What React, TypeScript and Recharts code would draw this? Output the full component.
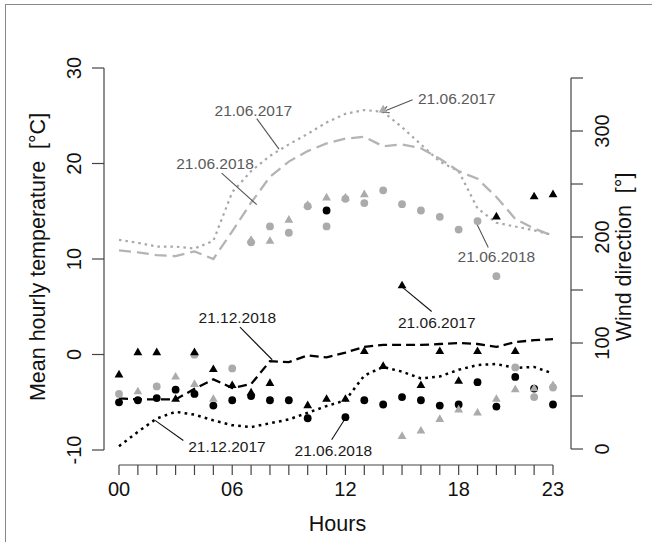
import React from "react";
import {
  ComposedChart,
  Line,
  Scatter,
  XAxis,
  YAxis,
  ReferenceLine,
  ReferenceDot,
} from "recharts";

const FONT = '"Liberation Sans", Arial, Helvetica, sans-serif';

const hours = [0, 1, 2, 3, 4, 5, 6, 7, 8, 9, 10, 11, 12, 13, 14, 15, 16, 17, 18, 19, 20, 21, 22, 23];
const hourTicks = [0, 6, 12, 18, 23];
const tempTicks = [-10, 0, 10, 20, 30];
const windTicks = [0, 50, 100, 150, 200, 250, 300, 350];
const windLabels = [0, 100, 200, 300];

// mean hourly temperature, °C
const tempJun2017 = [12.0, 11.7, 11.3, 11.3, 11.1, 11.9, 17.0, 19.2, 20.8, 22.0, 23.1, 24.3, 25.2, 25.6, 25.4, 23.8, 22.0, 20.2, 19.2, 15.3, 13.8, 13.4, 13.0, 12.5];
const tempJun2018 = [10.9, 10.7, 10.4, 10.3, 10.8, 10.0, 12.9, 15.9, 18.6, 20.2, 21.3, 22.1, 22.6, 22.8, 21.8, 22.0, 21.6, 20.5, 19.2, 18.4, 16.5, 14.2, 13.2, 12.4];
const tempDec2018 = [-4.6, -4.7, -4.7, -4.7, -3.6, -2.6, -3.5, -3.1, -0.7, -0.8, -0.1, -0.3, 0.2, 0.8, 1.0, 1.0, 1.0, 1.1, 1.2, 1.1, 0.8, 1.3, 1.5, 1.6];
const tempDec2017 = [-9.6, -8.1, -6.7, -6.0, -6.3, -6.9, -7.4, -7.6, -7.2, -6.8, -6.1, -5.4, -4.8, -2.2, -1.3, -1.8, -2.5, -2.3, -1.6, -1.1, -1.0, -1.4, -1.3, -2.0];

// wind direction, degrees (null = no point)
const windGrayTri = [null, 54, null, 68, 61, 47, null, 197, 196, 216, 230, 237, 237, 240, 320, 12, 17, 28, 37, 34, 47, 56, 57, 60];
const windGrayCirc = [52, null, 59, null, 89, null, 76, 195, 210, 204, 229, 210, 236, 232, 244, 231, 225, 219, 207, 215, 163, 77, 49, 58];
const windBlackTri = [70, 91, 91, 47, 91, 75, 60, 53, 62, null, 41, 47, 47, 92, 78, 154, 60, 92, 64, 92, 219, 92, 238, 240];
const windBlackCirc = [44, 46, 48, 56, 52, 41, 46, 50, 46, 46, 29, 225, 30, 46, 42, 49, 46, 41, 42, 63, 40, 68, 57, 42];

const notes = [
  { text: "21.06.2017", hour: 7.12, temp: 25.6, color: "#5a5a5a", from: [7.3, 24.7], to: [8.48, 21.5] },
  { text: "21.06.2018", hour: 5.09, temp: 20.0, color: "#5a5a5a", from: [5.44, 19.0], to: [7.3, 15.7] },
  { text: "21.06.2017", hour: 17.9, temp: 26.8, color: "#5a5a5a", from: [15.56, 26.67], to: [13.92, 25.37] },
  { text: "21.06.2018", hour: 20.0, temp: 10.3, color: "#5a5a5a", from: [18.96, 13.7], to: [19.57, 11.2] },
  { text: "21.06.2017", hour: 16.84, temp: 3.4, color: "#1a1a1a", from: [14.98, 7.1], to: [16.57, 4.5] },
  { text: "21.12.2018", hour: 6.27, temp: 3.9, color: "#1a1a1a", from: [6.41, 2.86], to: [8.12, -0.55] },
  { text: "21.12.2017", hour: 5.72, temp: -9.6, color: "#1a1a1a", from: [3.41, -9.0], to: [1.91, -6.9] },
  { text: "21.06.2018", hour: 11.36, temp: -10.1, color: "#1a1a1a", from: [11.27, -8.93], to: [11.98, -6.73] },
];
// arrow head at the tip of the third note
const arrowWings = [
  [14.35, 25.32],
  [14.21, 25.98],
];

const X_DOMAIN = [-0.795, 23.954];
const T_DOMAIN = [-11.57, 31.99];
const W_DOMAIN = [-15.09, 377.36];

const data = hours.map((h, i) => ({
  hour: h,
  jun2017: tempJun2017[i],
  jun2018: tempJun2018[i],
  dec2018: tempDec2018[i],
  dec2017: tempDec2017[i],
}));

const points = (vals: (number | null)[]) =>
  hours.map((h, i) => ({ hour: h, w: vals[i] })).filter((p) => p.w !== null);

const GRAY = "#ababab";
const BLACK = "#000";

const circle = (fill: string) => (p: any) => <circle cx={p.cx} cy={p.cy} r={3.9} fill={fill} />;
const triangle = (fill: string) => (p: any) => (
  <polygon
    points={`${p.cx},${p.cy - 5} ${p.cx - 4.4},${p.cy + 2.6} ${p.cx + 4.4},${p.cy + 2.6}`}
    fill={fill}
  />
);

const LeftTick = ({ x, y, payload }: any) => (
  <text x={x} y={y} transform={`rotate(-90 ${x} ${y})`} textAnchor="middle" fontSize={20} fill="#111" fontFamily={FONT}>
    {payload.value}
  </text>
);

const RightTick = ({ x, y, payload }: any) =>
  windLabels.includes(payload.value) ? (
    <text x={x} y={y} transform={`rotate(-90 ${x} ${y})`} textAnchor="middle" fontSize={20} fill="#111" fontFamily={FONT}>
      {payload.value}
    </text>
  ) : null;

const pad = (v: number) => (hourTicks.includes(v) ? String(v).padStart(2, "0") : "");

export default function App() {
  return (
    <div style={{ position: "absolute", left: 0, top: 0, width: 652, height: 542, background: "#fff" }}>
      <div
        style={{
          position: "absolute",
          left: 5,
          top: 4,
          width: 647,
          height: 538,
          borderTop: "1.5px solid #888",
          borderLeft: "1.5px solid #888",
        }}
      />
      <ComposedChart
        width={652}
        height={542}
        data={data}
        margin={{ top: 49, right: 21, bottom: 27, left: 44 }}
        style={{ position: "absolute", left: 0, top: 0 }}
      >
        <XAxis
          type="number"
          dataKey="hour"
          domain={X_DOMAIN}
          allowDataOverflow
          ticks={hours}
          interval={0}
          tickFormatter={pad}
          axisLine={false}
          tickSize={10}
          tickMargin={7}
          tickLine={{ stroke: "#444", strokeWidth: 1.2 }}
          tick={{ fill: "#111", fontSize: 20, fontFamily: FONT }}
          height={50}
          label={({ viewBox }: any) => (
            <text
              x={viewBox.x + viewBox.width / 2}
              y={viewBox.y + 66}
              textAnchor="middle"
              fontSize={21.5}
              fill="#111"
              fontFamily={FONT}
            >
              Hours
            </text>
          )}
        />
        <YAxis
          yAxisId="temp"
          type="number"
          domain={T_DOMAIN}
          allowDataOverflow
          ticks={tempTicks}
          interval={0}
          axisLine={false}
          tickSize={12}
          tickMargin={11}
          tickLine={{ stroke: "#444", strokeWidth: 1.2 }}
          tick={<LeftTick />}
          width={60}
          label={({ viewBox }: any) => {
            const x = viewBox.x + 1;
            const y = viewBox.y + viewBox.height / 2;
            return (
              <text x={x} y={y} transform={`rotate(-90 ${x} ${y})`} textAnchor="middle" fontSize={21.5} fill="#111" fontFamily={FONT}>
                {"Mean hourly temperature\u00a0\u00a0[°C]"}
              </text>
            );
          }}
        />
        <YAxis
          yAxisId="wind"
          orientation="right"
          type="number"
          domain={W_DOMAIN}
          allowDataOverflow
          ticks={windTicks}
          interval={0}
          axisLine={false}
          tickSize={12}
          tickMargin={26}
          tickLine={{ stroke: "#444", strokeWidth: 1.2 }}
          tick={<RightTick />}
          width={60}
          label={({ viewBox }: any) => {
            const x = viewBox.x + 60;
            const y = viewBox.y + viewBox.height / 2;
            return (
              <text x={x} y={y} transform={`rotate(-90 ${x} ${y})`} textAnchor="middle" fontSize={21.5} fill="#111" fontFamily={FONT}>
                {"Wind direction\u00a0\u00a0[°]"}
              </text>
            );
          }}
        />

        {/* axis lines, only over the tick range */}
        <ReferenceLine
          yAxisId="temp"
          segment={[{ x: X_DOMAIN[0], y: -10 }, { x: X_DOMAIN[0], y: 30 }]}
          stroke="#444"
          strokeWidth={1.2}
          ifOverflow="visible"
        />
        <ReferenceLine
          yAxisId="wind"
          segment={[{ x: X_DOMAIN[1], y: 0 }, { x: X_DOMAIN[1], y: 350 }]}
          stroke="#444"
          strokeWidth={1.2}
          ifOverflow="visible"
        />
        <ReferenceLine
          yAxisId="temp"
          segment={[{ x: 0, y: T_DOMAIN[0] }, { x: 23, y: T_DOMAIN[0] }]}
          stroke="#444"
          strokeWidth={1.2}
          ifOverflow="visible"
        />

        <Line yAxisId="temp" dataKey="jun2017" stroke="#a8a8a8" strokeWidth={2.2} strokeDasharray="2.5 4" dot={false} isAnimationActive={false} />
        <Line yAxisId="temp" dataKey="jun2018" stroke="#b4b4b4" strokeWidth={2.3} strokeDasharray="12 6" dot={false} isAnimationActive={false} />
        <Line yAxisId="temp" dataKey="dec2018" stroke="#000" strokeWidth={2.3} strokeDasharray="9 5" dot={false} isAnimationActive={false} />
        <Line yAxisId="temp" dataKey="dec2017" stroke="#000" strokeWidth={2.5} strokeDasharray="2.7 4.2" dot={false} isAnimationActive={false} />

        <Scatter yAxisId="wind" data={points(windBlackCirc)} dataKey="w" shape={circle(BLACK)} isAnimationActive={false} />
        <Scatter yAxisId="wind" data={points(windGrayTri)} dataKey="w" shape={triangle(GRAY)} isAnimationActive={false} />
        <Scatter yAxisId="wind" data={points(windGrayCirc)} dataKey="w" shape={circle(GRAY)} isAnimationActive={false} />
        <Scatter yAxisId="wind" data={points(windBlackTri)} dataKey="w" shape={triangle(BLACK)} isAnimationActive={false} />

        {notes.map((n, i) => (
          <ReferenceLine
            key={`l${i}`}
            yAxisId="temp"
            segment={[{ x: n.from[0], y: n.from[1] }, { x: n.to[0], y: n.to[1] }]}
            stroke={n.color === "#5a5a5a" ? "#555" : "#111"}
            strokeWidth={1.1}
            ifOverflow="visible"
          />
        ))}
        {arrowWings.map((w, i) => (
          <ReferenceLine
            key={`a${i}`}
            yAxisId="temp"
            segment={[{ x: notes[2].to[0], y: notes[2].to[1] }, { x: w[0], y: w[1] }]}
            stroke="#555"
            strokeWidth={1.1}
            ifOverflow="visible"
          />
        ))}
        {notes.map((n, i) => (
          <ReferenceDot
            key={`t${i}`}
            yAxisId="temp"
            x={n.hour}
            y={n.temp}
            r={0}
            fill="none"
            stroke="none"
            ifOverflow="visible"
            label={{ value: n.text, position: "center", fill: n.color, fontSize: 15.5, fontFamily: FONT }}
          />
        ))}
      </ComposedChart>
    </div>
  );
}
